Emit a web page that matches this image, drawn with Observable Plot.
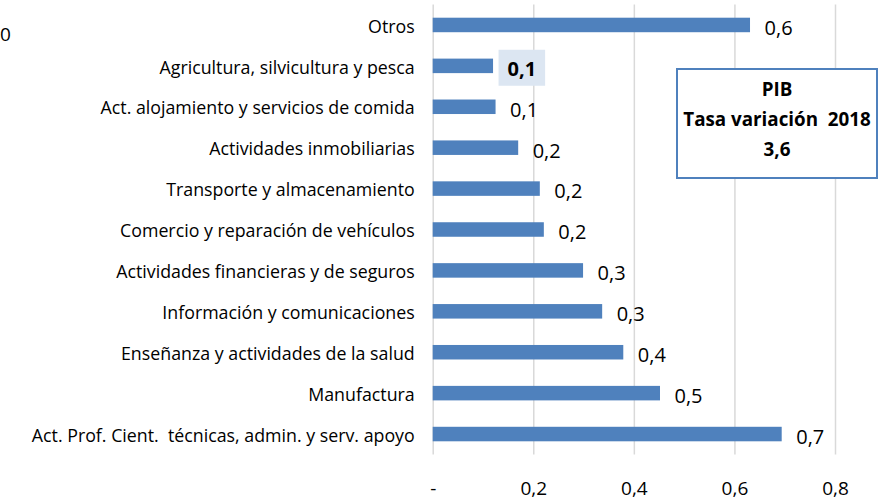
<!DOCTYPE html>
<html>
<head>
<meta charset="utf-8">
<script src="https://cdn.jsdelivr.net/npm/d3@7"></script>
<script src="https://cdn.jsdelivr.net/npm/@observablehq/plot@0.6"></script>
<style>
  html, body { margin: 0; padding: 0; background: #fff; }
  #wrap { position: relative; width: 890px; height: 500px; overflow: hidden; font-family: "Open Sans", sans-serif; }
  #clip0 { position: absolute; left: 0px; top: 21px; font-size: 19px; line-height: 26px; color: #000; }
  #pib { position: absolute; left: 676px; top: 68px; width: 198px; height: 103px; border: 2px solid #4f81bd;
         text-align: center; font-weight: bold; font-size: 18.8px; line-height: 30px;
         padding-top: 4px; background: #fff; color: #000; white-space: nowrap; }
</style>
</head>
<body>
<div id="wrap"></div>
<script>
const categories = [
  "Otros",
  "Agricultura, silvicultura y pesca",
  "Act. alojamiento y servicios de comida",
  "Actividades inmobiliarias",
  "Transporte y almacenamiento",
  "Comercio y reparación de vehículos",
  "Actividades financieras y de seguros",
  "Información y comunicaciones",
  "Enseñanza y actividades de la salud",
  "Manufactura",
  "Act. Prof. Cient.  técnicas, admin. y serv. apoyo"
];
const values = [0.631, 0.120, 0.125, 0.170, 0.213, 0.221, 0.299, 0.337, 0.379, 0.452, 0.694];
const xTicks = [0, 0.2, 0.4, 0.6, 0.8];
const xTickLabels = ["-", "0,2", "0,4", "0,6", "0,8"];
const highlighted = "Agricultura, silvicultura y pesca";
const pibLines = ["PIB", "Tasa variación\u00a0 2018", "3,6"];

const data = categories.map((c, i) => ({category: c, value: values[i]}));
const fmt = v => v.toFixed(1).replace(".", ",");
const tickFmt = d => xTickLabels[xTicks.indexOf(d)];

const chart = Plot.plot({
  width: 890,
  height: 500,
  marginLeft: 432.7,
  marginRight: 55,
  marginTop: 4.5,
  marginBottom: 45.5,
  style: {fontFamily: "'Open Sans', sans-serif", fontSize: "17px", color: "#000", background: "#fff"},
  x: {domain: [0, 0.8], label: null},
  y: {domain: categories, padding: 0, round: false, label: null},
  marks: [
    Plot.ruleX(xTicks, {stroke: "#d9d9d9", strokeWidth: 1.5}),
    Plot.barX(data, {y: "category", x: "value", fill: "#4f81bd", insetTop: 13.2, insetBottom: 13.2}),
    Plot.text(data, {y: "category", x: "value", text: d => fmt(d.value), textAnchor: "start", dx: 14, dy: 3,
      fontSize: 20, fill: "#000", className: "vlabel"}),
    Plot.axisX({ticks: xTicks, tickFormat: tickFmt, tickSize: 0, tickPadding: 26, fontSize: 19, label: null}),
    Plot.axisY({tickSize: 0, tickPadding: 18.5, fontSize: 17.8, dy: 1.5, label: null})
  ]
});

const wrap = document.getElementById("wrap");
wrap.appendChild(chart);

// bold + highlight background behind the highlighted label
d3.select(chart).selectAll(".vlabel text").each(function(d, i) {
  const idx = (typeof d === "number") ? d : i;
  if (categories[idx] === highlighted) {
    this.setAttribute("font-weight", "bold");
    const bb = this.getBBox();
    const rect = document.createElementNS("http://www.w3.org/2000/svg", "rect");
    rect.setAttribute("x", bb.x - 9);
    rect.setAttribute("y", bb.y - 5);
    rect.setAttribute("width", bb.width + 18);
    rect.setAttribute("height", bb.height + 9);
    rect.setAttribute("fill", "#dce6f2");
    const tr = this.getAttribute("transform");
    if (tr) rect.setAttribute("transform", tr);
    this.parentNode.insertBefore(rect, this);
  }
});

const c0 = document.createElement("div");
c0.id = "clip0";
c0.textContent = "0";
wrap.appendChild(c0);

const box = document.createElement("div");
box.id = "pib";
box.innerHTML = pibLines.map(s => `<div>${s}</div>`).join("");
wrap.appendChild(box);
</script>
</body>
</html>
